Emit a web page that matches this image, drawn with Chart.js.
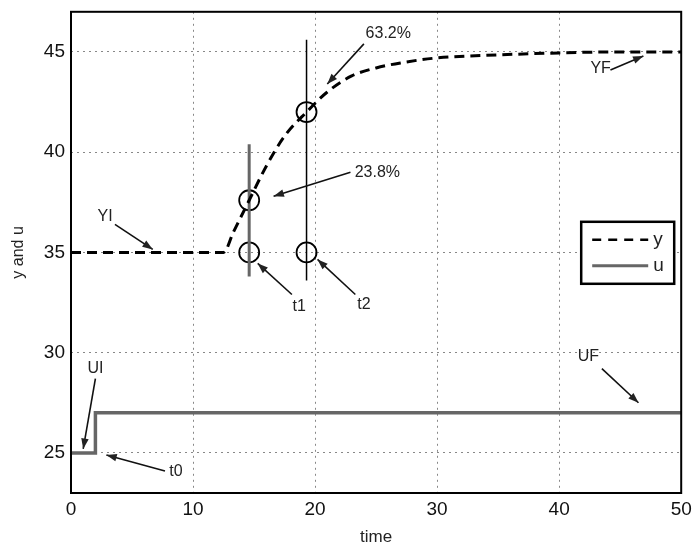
<!DOCTYPE html>
<html>
<head>
    <title>Step response</title>
    <script src="https://cdn.jsdelivr.net/npm/chart.js"></script>
    <style>
        body { margin: 0; background: #fff; }
        #wrap { width: 693px; height: 548px; }
    </style>
</head>
<body>
<div id="wrap"><canvas id="grafico" width="693" height="548"></canvas></div>
<script>
    // process output y
    const timeY = [0, 5, 10, 12.5, 13.3, 14.6, 16, 17.5, 19.3, 21, 23, 25, 27, 30, 35, 40, 45, 50];
    const yValues = [35, 35, 35, 35, 36, 37.6, 39.3, 40.8, 42, 43, 43.8, 44.2, 44.45, 44.7, 44.85, 44.95, 45, 45];
    // input u (step at t0)
    const timeU = [0, 2, 2, 50];
    const uValues = [25, 25, 27, 27];
    // t1 / t2 markers
    const markT = [14.6, 14.6, 19.3, 19.3];
    const markV = [35, 37.6, 35, 42];
    const t1Line = [33.8, 40.4];
    const t2Line = [33.6, 45.6];
    const xTicks = [0, 10, 20, 30, 40, 50];
    const yTicks = [25, 30, 35, 40, 45];

    // labels: text position and arrow (from -> to), all in data units
    const notas = [
        { txt: '63.2%', tx: 26.0, ty: 45.9, x1: 24.0, y1: 45.4, x2: 21.0, y2: 43.4 },
        { txt: '23.8%', tx: 25.1, ty: 39.0, x1: 22.9, y1: 39.0, x2: 16.6, y2: 37.8 },
        { txt: 'YF', tx: 43.4, ty: 44.15, x1: 44.2, y1: 44.1, x2: 46.9, y2: 44.8 },
        { txt: 't1', tx: 18.7, ty: 32.3, x1: 18.1, y1: 32.9, x2: 15.3, y2: 34.45 },
        { txt: 't2', tx: 24.0, ty: 32.4, x1: 23.3, y1: 32.9, x2: 20.2, y2: 34.65 },
        { txt: 'YI', tx: 2.8, ty: 36.8, x1: 3.6, y1: 36.4, x2: 6.7, y2: 35.15 },
        { txt: 'UI', tx: 2.0, ty: 29.2, x1: 2.0, y1: 28.7, x2: 1.0, y2: 25.2 },
        { txt: 't0', tx: 8.6, ty: 24.05, x1: 7.7, y1: 24.1, x2: 2.9, y2: 24.9 },
        { txt: 'UF', tx: 42.4, ty: 29.8, x1: 43.5, y1: 29.2, x2: 46.5, y2: 27.5 }
    ];

    const toXY = (xs, ys) => xs.map((x, i) => ({ x: x, y: ys[i] }));

    function flecha(ctx, x1, y1, x2, y2) {
        const ang = Math.atan2(y2 - y1, x2 - x1);
        ctx.beginPath();
        ctx.moveTo(x1, y1);
        ctx.lineTo(x2, y2);
        ctx.stroke();
        ctx.beginPath();
        ctx.moveTo(x2, y2);
        ctx.lineTo(x2 - 11 * Math.cos(ang - 0.35), y2 - 11 * Math.sin(ang - 0.35));
        ctx.lineTo(x2 - 11 * Math.cos(ang + 0.35), y2 - 11 * Math.sin(ang + 0.35));
        ctx.closePath();
        ctx.fill();
    }

    const extras = {
        id: 'extras',
        afterDraw(chart) {
            const ctx = chart.ctx;
            const xs = chart.scales.x, ys = chart.scales.y;
            const a = chart.chartArea;
            ctx.save();
            // frame
            ctx.strokeStyle = '#000';
            ctx.lineWidth = 2;
            ctx.setLineDash([]);
            ctx.strokeRect(a.left, a.top, a.right - a.left, a.bottom - a.top);

            // annotations
            ctx.fillStyle = '#222';
            ctx.strokeStyle = '#111';
            ctx.lineWidth = 1.6;
            ctx.font = '16px "Liberation Sans", Arial, sans-serif';
            ctx.textAlign = 'center';
            ctx.textBaseline = 'middle';
            notas.forEach(n => {
                ctx.fillText(n.txt, xs.getPixelForValue(n.tx), ys.getPixelForValue(n.ty));
                flecha(ctx, xs.getPixelForValue(n.x1), ys.getPixelForValue(n.y1),
                    xs.getPixelForValue(n.x2), ys.getPixelForValue(n.y2));
            });

            // legend box
            const lx = a.right - 100, ly = a.top + 210;
            ctx.fillStyle = '#fff';
            ctx.fillRect(lx, ly, 93, 62);
            ctx.strokeStyle = '#000';
            ctx.lineWidth = 2.5;
            ctx.strokeRect(lx, ly, 93, 62);
            ctx.lineWidth = 2.5;
            ctx.setLineDash([9, 7]);
            ctx.beginPath();
            ctx.moveTo(lx + 11, ly + 18);
            ctx.lineTo(lx + 67, ly + 18);
            ctx.stroke();
            ctx.setLineDash([]);
            ctx.strokeStyle = '#666';
            ctx.lineWidth = 3;
            ctx.beginPath();
            ctx.moveTo(lx + 11, ly + 44);
            ctx.lineTo(lx + 67, ly + 44);
            ctx.stroke();
            ctx.fillStyle = '#222';
            ctx.font = '19px "Liberation Sans", Arial, sans-serif';
            ctx.textAlign = 'left';
            ctx.fillText('y', lx + 72, ly + 18);
            ctx.fillText('u', lx + 72, ly + 44);
            ctx.restore();
        }
    };

    const fuente = { family: '"Liberation Sans", Arial, sans-serif', size: 19 };

    new Chart(document.getElementById('grafico').getContext('2d'), {
        type: 'line',
        data: {
            datasets: [
                {
                    label: 'y',
                    data: toXY(timeY, yValues),
                    borderColor: '#000',
                    borderWidth: 3,
                    borderDash: [10, 6],
                    pointRadius: 0,
                    cubicInterpolationMode: 'monotone'
                },
                {
                    label: 'u',
                    data: toXY(timeU, uValues),
                    borderColor: '#666',
                    borderWidth: 3.5,
                    pointRadius: 0
                },
                {
                    label: 't1',
                    data: toXY([markT[0], markT[0]], t1Line),
                    borderColor: '#666',
                    borderWidth: 3,
                    pointRadius: 0
                },
                {
                    label: 't2',
                    data: toXY([markT[2], markT[2]], t2Line),
                    borderColor: '#000',
                    borderWidth: 1.5,
                    pointRadius: 0
                },
                {
                    label: 'marcas',
                    data: toXY(markT, markV),
                    showLine: false,
                    pointRadius: 10,
                    pointBorderWidth: 1.8,
                    pointBorderColor: '#000',
                    pointBackgroundColor: 'rgba(0,0,0,0)'
                }
            ]
        },
        options: {
            responsive: false,
            animation: false,
            layout: { padding: { top: 9, right: 8, left: 9, bottom: 0 } },
            plugins: {
                legend: { display: false },
                tooltip: { enabled: false }
            },
            scales: {
                x: {
                    type: 'linear',
                    min: 0,
                    max: 50,
                    afterBuildTicks: s => { s.ticks = xTicks.map(v => ({ value: v })); },
                    afterFit: s => { s.height = 55; s.paddingLeft = 0; s.paddingRight = 0; },
                    grid: { color: '#888', lineWidth: 1, tickLength: 0 },
                    border: { display: false, dash: [2, 4] },
                    ticks: { color: '#111', font: fuente, padding: 5, maxRotation: 0 },
                    title: { display: true, text: 'time', color: '#222', font: { family: fuente.family, size: 17 }, padding: { top: 0, bottom: 0 } }
                },
                y: {
                    type: 'linear',
                    min: 23,
                    max: 47,
                    afterBuildTicks: s => { s.ticks = yTicks.map(v => ({ value: v })); },
                    afterFit: s => { s.width = 62; s.paddingTop = 0; s.paddingBottom = 0; },
                    grid: { color: '#888', lineWidth: 1, tickLength: 0 },
                    border: { display: false, dash: [2, 4] },
                    ticks: { color: '#111', font: fuente, padding: 6 },
                    title: { display: true, text: 'y and u', color: '#222', font: { family: fuente.family, size: 16 }, padding: { top: 0, bottom: 2 } }
                }
            }
        },
        plugins: [extras]
    });
</script>
</body>
</html>
